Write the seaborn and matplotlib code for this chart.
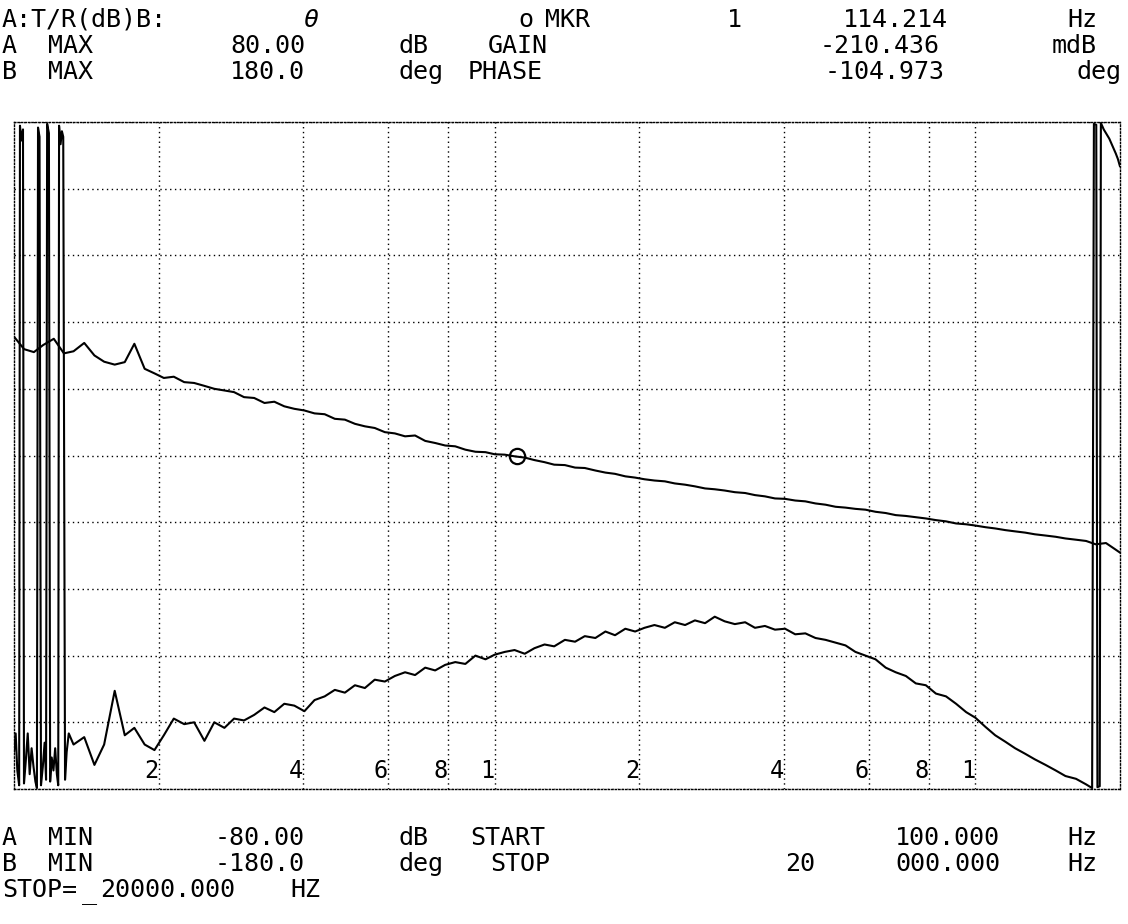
import numpy as np
import seaborn as sns
import matplotlib.pyplot as plt
from matplotlib.ticker import NullLocator

# --- analyzer settings / marker readout ---
START_HZ, STOP_HZ = 100.0, 20000.0
A_MIN, A_MAX = -80.0, 80.0      # dB
B_MIN, B_MAX = -180.0, 180.0    # deg
MKR_HZ = 1114.214
MKR_GAIN_MDB = -210.436
MKR_PHASE_DEG = -104.973

# --- sweep points (Hz) and gain trace A (dB) ---
gain_hz = [100, 105, 110, 115, 121, 127, 133, 140, 147, 154, 162, 170, 178, 187, 196, 205,
           215, 226, 237, 249, 261, 274, 287, 301, 316, 332, 348, 365, 383, 402, 422, 443,
           465, 488, 512, 537, 563, 591, 620, 651, 683, 717, 752, 789, 828, 869, 912, 957,
           1000, 1050, 1100, 1155, 1210, 1270, 1330, 1400, 1470, 1540, 1620, 1700, 1780, 1870,
           1960, 2050, 2150, 2260, 2370, 2490, 2610, 2740, 2870, 3010, 3160, 3320, 3480, 3650,
           3830, 4020, 4220, 4430, 4650, 4880, 5120, 5370, 5630, 5910, 6200, 6510, 6830, 7170,
           7520, 7890, 8280, 8690, 9120, 9570,
           10000, 10500, 11000, 11550, 12100, 12700, 13300, 14000, 14700, 15400, 16200, 17000,
           17800, 18700, 19600, 20000]
gain_db = [28.5, 25.5, 24.8, 26.5, 28.0, 24.5, 25.0, 27.0, 24.0, 22.5, 21.8, 22.4, 26.8, 20.8,
           19.7, 18.6, 18.9, 17.6, 17.4, 16.7, 16.0, 15.6, 15.2, 14.0, 13.8, 12.6, 12.9, 11.8,
           11.2, 10.8, 10.1, 9.9, 8.8, 8.6, 7.6, 7.0, 6.6, 5.6, 5.3, 4.6, 4.8, 3.5, 3.0, 2.4,
           2.2, 1.4, 0.9, 0.8,
           0.3, 0.2, -0.2, -0.5, -1.1, -1.6, -2.2, -2.3, -2.9, -3.0, -3.6, -4.1, -4.4, -5.0,
           -5.3, -5.7, -6.0, -6.2, -6.7, -7.0, -7.4, -7.9, -8.1, -8.4, -8.8, -9.0, -9.5, -9.8,
           -10.3, -10.4, -10.8, -11.0, -11.5, -11.8, -12.3, -12.5, -12.8, -13.0, -13.5, -13.8,
           -14.3, -14.5, -14.8, -15.1, -15.5, -15.8, -16.3, -16.5,
           -16.8, -17.2, -17.5, -17.9, -18.2, -18.5, -18.9, -19.2, -19.5, -19.9, -20.2, -20.5,
           -21.3, -21.0, -22.6, -23.3]

# --- phase trace B (deg): noisy start with wraps, main sweep, wrap near stop ---
phase_low_hz = [100.0, 100.8, 101.6, 102.5, 102.9, 103.6, 104.4, 104.9, 105.8, 106.8, 107.8,
                108.8, 109.8, 110.8, 111.6, 112.2, 113.0, 113.8, 114.8, 115.8, 116.6, 117.2,
                118.2, 118.9, 119.8, 120.8, 121.8, 122.8, 123.6, 124.1, 125.0, 125.8, 126.6,
                127.7, 128.7, 130.0]
phase_low_deg = [-160, -150, -170, -178, 178, 170, 176, -177, -165, -150, -172, -158, -168,
                 -176, -179.5, 177, 172, -178, -168, -155, -175, 179, 174, -176, -163, -170,
                 -158, -172, -178, 178, 168, 175, 172, -175, -160, -150]
phase_mid_hz = gain_hz[6:108]
phase_mid_deg = [-156, -152, -167, -156, -127, -151, -147, -156, -159, -151, -142, -145, -144,
                 -154, -144, -147, -142, -143, -140, -136, -138.5, -134, -135, -138, -132, -130,
                 -126.5, -128, -124, -125.5, -121, -122, -119, -117, -118.5, -114.5, -116, -113,
                 -111.5, -112.5, -108, -110,
                 -107.5, -106, -105, -107, -104, -102, -103, -99.5, -100.5, -97.5, -98.5, -95,
                 -97, -93.5, -95, -93, -91.5, -93, -90, -91.5, -89, -90.5, -87, -89.5, -91, -90,
                 -93, -92, -94, -93.5, -96.5, -96, -98.5, -99.5, -101, -102.5, -106, -108, -110,
                 -114.5, -117, -119, -123, -124, -128.5, -130, -134, -138.5,
                 -141.5, -146.5, -151, -154.5, -158, -161, -164, -167, -170, -173, -174.5, -177.5]
phase_wrap_hz = [17500, 17650, 17850, 17950, 18150, 18250, 18500, 18700, 19000, 19300, 19600,
                 19800, 20000]
phase_wrap_deg = [-179.5, 179, 178.5, -179, -178.5, 179.5, 176, 174, 171, 167, 163, 160, 156]

phase_hz = phase_low_hz + phase_mid_hz + phase_wrap_hz
phase_deg = phase_low_deg + phase_mid_deg + phase_wrap_deg

# --- log grid and the in-plot grid labels ---
grid_hz = [200, 400, 600, 800, 1000, 2000, 4000, 6000, 8000, 10000]
grid_labels = ['2', '4', '6', '8', '1', '2', '4', '6', '8', '1']

sns.set_style("white")
plt.rcParams['font.family'] = ['DejaVu Sans Mono', 'DejaVu Sans']

W, H = 1128, 924
fig = plt.figure(figsize=(W / 100, H / 100), dpi=100)
ax = fig.add_axes([14 / W, 1 - 789 / H, (1120 - 14) / W, (789 - 122) / H])
ax2 = ax.twinx()

sns.lineplot(x=gain_hz, y=gain_db, ax=ax, color='black', linewidth=1.5,
             estimator=None, sort=False)
sns.lineplot(x=phase_hz, y=phase_deg, ax=ax2, color='black', linewidth=1.5,
             estimator=None, sort=False)

# marker on trace A
ax.plot([MKR_HZ], [MKR_GAIN_MDB / 1000], marker='o', ms=11, mfc='none',
        mec='black', mew=1.6, ls='none')

ax.set_xscale('log')
ax.set_xlim(START_HZ, STOP_HZ)
ax.set_ylim(A_MIN, A_MAX)
ax2.set_ylim(B_MIN, B_MAX)
ax.set_xticks(grid_hz)
ax.xaxis.set_minor_locator(NullLocator())
ax.set_yticks(np.arange(A_MIN, A_MAX + 1, 16))
ax.tick_params(length=0, labelbottom=False, labelleft=False)
ax2.set_yticks([])
ax2.tick_params(length=0, labelright=False)
ax.set_xlabel('')
ax.set_ylabel('')
ax2.set_ylabel('')
ax.grid(True, color='black', linestyle=(0, (1, 2.5)), linewidth=1.0)
for sp in ax.spines.values():
    sp.set_linestyle((0, (1, 1.5)))
    sp.set_color('black')
    sp.set_linewidth(1.0)
for sp in ax2.spines.values():
    sp.set_visible(False)

for f, lab in zip(grid_hz, grid_labels):
    ax.text(f, 0.009, lab, transform=ax.get_xaxis_transform(), ha='right',
            va='bottom', fontsize=17, color='black')

# header / footer readout (x px, baseline px, text, align)
FS = 18
readout = [
    (2, 27, "A:T/R(dB)B:", 'left'), (303, 27, "θ", 'left'),
    (518, 27, "o", 'left'), (545, 27, "MKR", 'left'),
    (727, 27, "1", 'left'), (948, 27, f"{MKR_HZ - 1000:.3f}", 'right'), (1097, 27, "Hz", 'right'),
    (2, 53, "A", 'left'), (48, 53, "MAX", 'left'), (305, 53, f"{A_MAX:.2f}", 'right'),
    (398, 53, "dB", 'left'), (488, 53, "GAIN", 'left'),
    (940, 53, f"{MKR_GAIN_MDB:.3f}", 'right'), (1097, 53, "mdB", 'right'),
    (2, 79, "B", 'left'), (48, 79, "MAX", 'left'), (305, 79, f"{B_MAX:.1f}", 'right'),
    (398, 79, "deg", 'left'), (468, 79, "PHASE", 'left'),
    (945, 79, f"{MKR_PHASE_DEG:.3f}", 'right'), (1122, 79, "deg", 'right'),
    (2, 845, "A", 'left'), (48, 845, "MIN", 'left'), (305, 845, f"{A_MIN:.2f}", 'right'),
    (398, 845, "dB", 'left'), (470, 845, "START", 'left'),
    (1000, 845, "100.000", 'right'), (1097, 845, "Hz", 'right'),
    (2, 871, "B", 'left'), (48, 871, "MIN", 'left'), (305, 871, f"{B_MIN:.1f}", 'right'),
    (398, 871, "deg", 'left'), (490, 871, "STOP", 'left'),
    (815, 871, "20", 'right'), (1000, 871, "000.000", 'right'), (1097, 871, "Hz", 'right'),
    (2, 897, "STOP=", 'left'), (82, 899, "_", 'left'),
    (100, 897, "20000.000", 'left'), (290, 897, "HZ", 'left'),
]
for x, y, s, ha in readout:
    fig.text(x / W, 1 - y / H, s, ha=ha, va='baseline', fontsize=FS, color='black',
             style='italic' if s == "θ" else 'normal')

fig.savefig('out.png', dpi=100)
